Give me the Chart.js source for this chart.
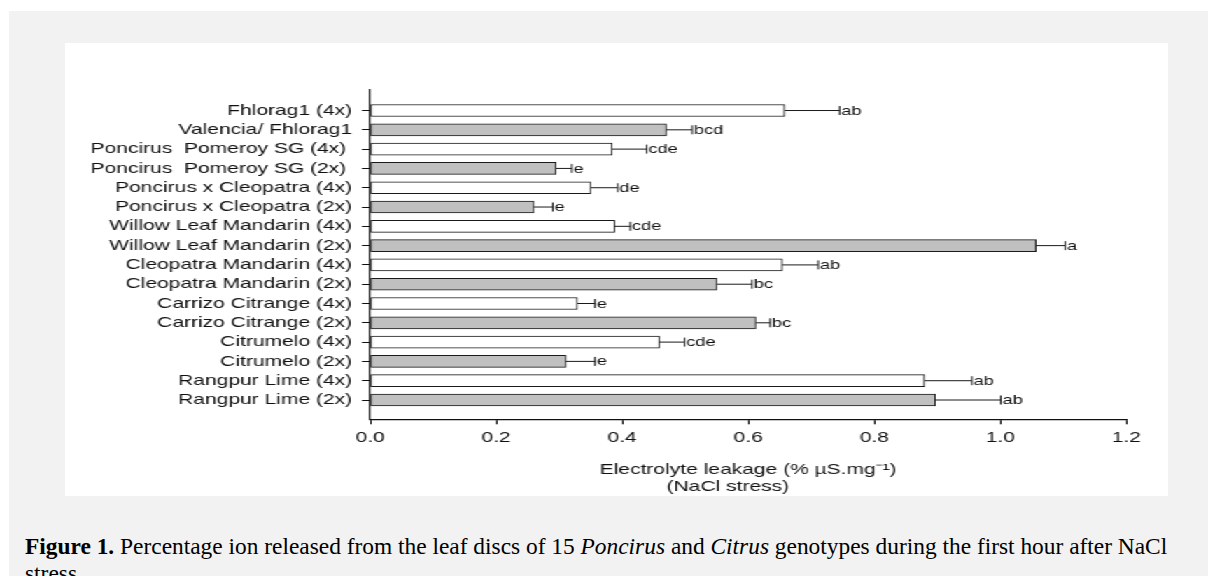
<!DOCTYPE html>
<html>
<head>
<meta charset="utf-8">
<script src="https://cdn.jsdelivr.net/npm/chart.js@4.4.1/dist/chart.umd.min.js"></script>
<style>
  html, body { margin: 0; padding: 0; background: #ffffff; width: 1208px; height: 576px; overflow: hidden; }
  #panel { position: absolute; left: 9px; top: 11px; right: 0; bottom: 0; background: #f2f2f2; }
  #box { position: absolute; left: 65px; top: 43px; width: 788px; height: 453px; background: #ffffff;
         transform: scaleX(1.4); transform-origin: left top; }
  #caption { position: absolute; left: 25px; top: 533px; width: 1180px; font-family: "Liberation Serif", "Times New Roman", serif;
             font-size: 23.4px; line-height: 27px; color: #000; }
</style>
</head>
<body>
<div id="panel"></div>
<div id="box"><canvas id="c" width="788" height="453"></canvas></div>
<div id="caption"><b>Figure 1.</b> Percentage ion released from the leaf discs of 15 <i>Poncirus</i> and <i>Citrus</i> genotypes during the first hour after NaCl stress.</div>
<script>
const categories = [
  'Fhlorag1 (4x)',
  'Valencia/ Fhlorag1',
  'Poncirus  Pomeroy SG (4x) ',
  'Poncirus  Pomeroy SG (2x) ',
  'Poncirus x Cleopatra (4x)',
  'Poncirus x Cleopatra (2x)',
  'Willow Leaf Mandarin (4x)',
  'Willow Leaf Mandarin (2x)',
  'Cleopatra Mandarin (4x)',
  'Cleopatra Mandarin (2x)',
  'Carrizo Citrange (4x)',
  'Carrizo Citrange (2x)',
  'Citrumelo (4x)',
  'Citrumelo (2x)',
  'Rangpur Lime (4x)',
  'Rangpur Lime (2x)'
];
const leakage = [0.658, 0.470, 0.384, 0.295, 0.350, 0.260, 0.388, 1.057, 0.654, 0.550, 0.329, 0.612, 0.459, 0.311, 0.880, 0.897];
const stdErr  = [0.087, 0.041, 0.055, 0.025, 0.043, 0.030, 0.025, 0.046, 0.057, 0.056, 0.028, 0.023, 0.040, 0.046, 0.075, 0.104];
const groups  = ['ab', 'bcd', 'cde', 'e', 'de', 'e', 'cde', 'a', 'ab', 'bc', 'e', 'bc', 'cde', 'e', 'ab', 'ab'];
const xTicks  = [0.0, 0.2, 0.4, 0.6, 0.8, 1.0, 1.2];
const xTitle  = ['Electrolyte leakage (% \u00B5S.mg\u207B\u00B9)', '(NaCl stress)       '];

const FONT = "'Liberation Sans', Arial, sans-serif";
const CANVAS_H = 453;
const PLOT_LEFT = 218;
const PLOT_BOTTOM = 376.3;
const PAD_BOTTOM = 1;

const errorBars = {
  id: 'errorBars',
  afterDatasetsDraw(chart) {
    const ctx = chart.ctx, xs = chart.scales.x, ys = chart.scales.y;
    ctx.save();
    ctx.strokeStyle = '#1a1a1a';
    ctx.lineWidth = 1;
    ctx.fillStyle = '#111';
    ctx.font = "13px " + FONT;
    ctx.textAlign = 'left';
    ctx.textBaseline = 'middle';
    leakage.forEach((v, i) => {
      const y = ys.getPixelForValue(i);
      const x0 = xs.getPixelForValue(v);
      const x1 = xs.getPixelForValue(v + stdErr[i]);
      ctx.beginPath();
      ctx.moveTo(x0, y); ctx.lineTo(x1, y);
      ctx.moveTo(x1, y - 4.5); ctx.lineTo(x1, y + 4.5);
      ctx.stroke();
      ctx.fillText(groups[i], x1 + 1.2, y + 0.5);
    });
    ctx.restore();
  }
};

new Chart(document.getElementById('c'), {
  type: 'bar',
  data: {
    datasets: [{
      data: leakage.map((v, i) => ({ x: v, y: i })),
      backgroundColor: categories.map(c => c.includes('(4x)') ? '#ffffff' : '#c0c0c0'),
      borderColor: '#1a1a1a',
      borderWidth: 1,
      borderSkipped: false,
      barThickness: 12
    }]
  },
  options: {
    indexAxis: 'y',
    responsive: false,
    animation: false,
    devicePixelRatio: 1,
    layout: { padding: { top: 46.3, right: 29.9, bottom: PAD_BOTTOM, left: 0 } },
    plugins: { legend: { display: false }, tooltip: { enabled: false } },
    scales: {
      x: {
        type: 'linear',
        position: 'bottom',
        min: 0, max: 1.2,
        offset: false,
        afterBuildTicks: s => { s.ticks = xTicks.map(v => ({ value: v })); },
        afterFit: s => { s.height = CANVAS_H - PAD_BOTTOM - PLOT_BOTTOM; s.paddingLeft = 0; s.paddingRight = 0; },
        ticks: { color: '#111', font: { family: FONT, size: 15 }, padding: 5, maxRotation: 0,
                 callback: v => Number(v).toFixed(1) },
        grid: { drawOnChartArea: false, drawTicks: true, tickLength: 5, color: '#111', lineWidth: 1, offset: false },
        border: { display: true, color: '#111', width: 1.2 },
        title: { display: true, text: xTitle, color: '#111', font: { family: FONT, size: 15, lineHeight: 1.1 },
                 padding: { top: 0, bottom: 0 } }
      },
      y: {
        type: 'linear',
        position: 'left',
        reverse: true,
        min: -1.1, max: 16,
        offset: false,
        afterBuildTicks: s => { s.ticks = categories.map((_, i) => ({ value: i })); },
        afterFit: s => { s.width = PLOT_LEFT; s.paddingTop = 0; s.paddingBottom = 0; },
        ticks: { color: '#111', font: { family: FONT, size: 15 }, padding: 7, autoSkip: false,
                 callback: v => categories[v] },
        grid: { drawOnChartArea: false, drawTicks: true, tickLength: 6, color: '#111', lineWidth: 1, offset: false },
        border: { display: true, color: '#111', width: 1.2 }
      }
    }
  },
  plugins: [errorBars]
});
</script>
</body>
</html>
